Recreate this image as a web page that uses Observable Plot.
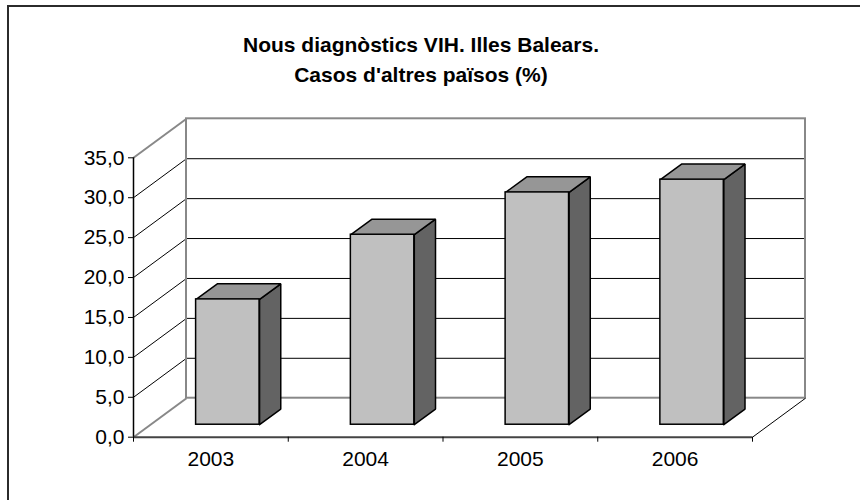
<!DOCTYPE html>
<html>
<head>
<meta charset="utf-8">
<script src="https://cdn.jsdelivr.net/npm/d3@7"></script>
<script src="https://cdn.jsdelivr.net/npm/@observablehq/plot@0.6"></script>
<style>
  body { margin: 0; background: #fff; }
  #chart { position: relative; width: 860px; height: 500px; overflow: hidden; }
</style>
</head>
<body>
<div id="chart"></div>
<script>
// ---- data ----
const titleLines = ["Nous diagnòstics VIH. Illes Balears.", "Casos d'altres països (%)"];
const years = ["2003", "2004", "2005", "2006"];
const values = [15.7, 23.8, 29.1, 30.7];
const yTicks = [0, 5, 10, 15, 20, 25, 30, 35];

// ---- 3D projection (depth expressed in data units) ----
const KX = 0.3425;   // category units per unit of depth
const KY = 4.885;    // value units per unit of depth
const D0 = 0.32, D1 = 0.72;      // bar front / back depth
const BL = 0.295, BR = 0.705;    // bar left / right within category band
const yMax = 35, nCat = years.length;

const rows = years.map((y, i) => ({year: y, i, v: values[i]}));

const fronts = rows.map(r => ({x1: r.i + BL + D0 * KX, x2: r.i + BR + D0 * KX, y1: D0 * KY, y2: r.v + D0 * KY}));
const tops = rows.flatMap(r => [
  [r.i + BL, D0], [r.i + BR, D0], [r.i + BR, D1], [r.i + BL, D1], [r.i + BL, D0]
].map(([x, d]) => ({id: r.year, x: x + d * KX, y: r.v + d * KY})));
const sides = rows.flatMap(r => [
  [0, D0], [r.v, D0], [r.v, D1], [0, D1], [0, D0]
].map(([v, d]) => ({id: r.year, x: r.i + BR + d * KX, y: v + d * KY})));

const gridInner = yTicks.filter(t => t > 0 && t < yMax);
const fmt = d => d.toFixed(1).replace(".", ",");

const font = "'Liberation Sans', Arial, sans-serif";

const chart = Plot.plot({
  width: 860,
  height: 500,
  marginLeft: 133,
  marginRight: 108,
  marginTop: 157.3,
  marginBottom: 63.3,
  style: {fontFamily: font, fontSize: "20px", background: "#fff", color: "#000", overflow: "visible"},
  x: {type: "linear", domain: [0, nCat], axis: null},
  y: {type: "linear", domain: [0, yMax], axis: null},
  marks: [
    // back wall gridlines
    Plot.ruleY(gridInner, {y: d => d + KY, x1: KX, x2: nCat + KX, stroke: "#000", strokeWidth: 1}),
    // left wall diagonals
    Plot.link(gridInner, {x1: 0, y1: d => d, x2: KX, y2: d => d + KY, stroke: "#000", strokeWidth: 1}),
    // back wall outline
    Plot.rect([0], {x1: KX, x2: nCat + KX, y1: KY, y2: yMax + KY, fill: "none", stroke: "#888", strokeWidth: 2}),
    // left wall outer edges (bottom & top)
    Plot.link([0, yMax], {x1: 0, y1: d => d, x2: KX, y2: d => d + KY, stroke: "#888", strokeWidth: 2}),
    // floor right edge
    Plot.link([nCat], {x1: d => d, y1: 0, x2: d => d + KX, y2: KY, stroke: "#000", strokeWidth: 1}),
    // floor front edge
    Plot.ruleY([0], {x1: 0, x2: nCat, stroke: "#444", strokeWidth: 2}),
    // y axis line
    Plot.ruleX([0], {y1: 0, y2: yMax, stroke: "#000", strokeWidth: 1.5}),
    Plot.axisY({ticks: yTicks, tickFormat: fmt, tickSize: 5, tickPadding: 4, fontSize: 21, label: null}),
    Plot.axisX({ticks: d3.range(nCat + 1), tickFormat: () => "", tickSize: 5, label: null}),
    Plot.axisX({ticks: years.map((_, i) => i + 0.5), tickFormat: d => years[Math.floor(d)], tickSize: 0, tickPadding: 14, fontSize: 21, label: null}),
    // bars
    Plot.line(sides, {x: "x", y: "y", z: "id", fill: "#636363", stroke: "#000", strokeWidth: 1.5, strokeLinejoin: "miter"}),
    Plot.line(tops, {x: "x", y: "y", z: "id", fill: "#969696", stroke: "#000", strokeWidth: 1.5, strokeLinejoin: "miter"}),
    Plot.rect(fronts, {x1: "x1", x2: "x2", y1: "y1", y2: "y2", fill: "#c0c0c0", stroke: "#000", strokeWidth: 1.5}),
    // title
    Plot.text([titleLines.join("\n")], {frameAnchor: "top", dx: -22, dy: -127, lineAnchor: "top", lineHeight: 1.42, fontSize: 21, fontWeight: "bold", fill: "#000"})
  ]
});

// outer chart-area border (left and top edges visible)
d3.select(chart).append("rect")
  .attr("x", 8).attr("y", 6).attr("width", 900).attr("height", 600)
  .attr("fill", "none").attr("stroke", "#2b2b2b").attr("stroke-width", 2);

document.getElementById("chart").appendChild(chart);
</script>
</body>
</html>
